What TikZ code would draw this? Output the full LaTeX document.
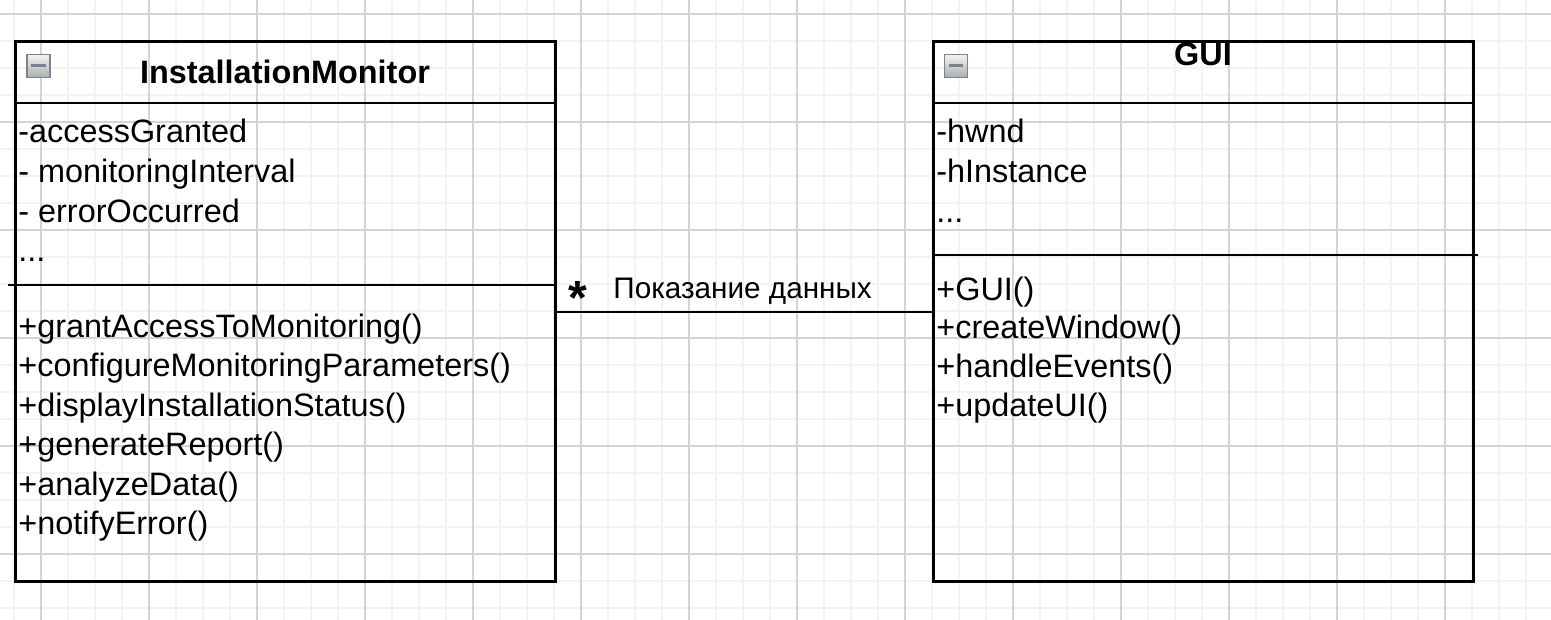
\documentclass[tikz,border=0pt]{standalone}
\usepackage{fontspec}
\setmainfont{Liberation Sans}
\usetikzlibrary{positioning}

\definecolor{gridlight}{RGB}{243,243,243}
\definecolor{griddark}{RGB}{212,212,212}
\definecolor{toggleedge}{RGB}{122,130,148}

\tikzset{
  gridminor/.style={draw=gridlight, line width=0.7pt},
  gridmajor/.style={draw=griddark, line width=0.7pt},
  classbox/.style={draw, line width=1.5pt, minimum width=270pt, minimum height=269.5pt, inner sep=0pt},
  classline/.style={line width=1.25pt},
  classname/.style={anchor=base, inner sep=0pt, font=\fontsize{16.2}{19}\selectfont\bfseries},
  member/.style={anchor=base west, inner sep=0pt, font=\fontsize{16.2}{19}\selectfont},
  assoc/.style={line width=1pt},
  assoclabel/.style={anchor=base west, inner sep=0pt, font=\fontsize{14.85}{18}\selectfont},
  multlabel/.style={anchor=base, inner sep=0pt, font=\fontsize{24}{28}\selectfont\bfseries},
  togglebox/.style={draw=toggleedge, line width=0.6pt, top color=black!5, bottom color=black!32,
    minimum size=11.5pt, inner sep=0pt,
    path picture={\draw[line width=1.5pt] ([xshift=2.2pt]path picture bounding box.west) -- ([xshift=-2.2pt]path picture bounding box.east);}},
}

\begin{document}
\begin{tikzpicture}[x=0.5pt, y=-0.5pt]
	\useasboundingbox (0,0) rectangle (1551,620);
	\fill[white] (0,0) rectangle (1551,620);
	% background grid
	\foreach \gx in {14,41,...,1551}
		\draw[gridminor] (\gx,0) -- (\gx,620);
	\foreach \gy in {14,41,...,620}
		\draw[gridminor] (0,\gy) -- (1551,\gy);
	\foreach \gx in {41,149,...,1551}
		\draw[gridmajor] (\gx,0) -- (\gx,620);
	\foreach \gy in {14,122,...,620}
		\draw[gridmajor] (0,\gy) -- (1551,\gy);

	% classes
	\node[classbox] (monitor) at (285,311.5) {};
	\node[classbox] (gui) at (1203,311.5) {};

	\draw[classline] (monitor.west |- 0,103) -- (monitor.east |- 0,103);
	\draw[classline] (8,285) -- (monitor.east |- 0,285);
	\draw[classline] (gui.west |- 0,103) -- (gui.east |- 0,103);
	\draw[classline] (gui.west |- 0,255) -- (1478,255);

	\node[togglebox] (monitortoggle) at (38.5,66) {};
	\node[togglebox] (guitoggle) at (956,66) {};

	\node[classname] (monitorname) at (285,84) {InstallationMonitor};
	\node[classname] (guiname) at (1203,66) {GUI};

	% InstallationMonitor members
	\node[member] (ma1) at (18,143) {-accessGranted};
	\node[member] (ma2) at (18,182.5) {- monitoringInterval};
	\node[member] (ma3) at (18,222) {- errorOccurred};
	\node[member] (ma4) at (18,261.5) {...};
	\node[member] (mm1) at (18,337) {+grantAccessToMonitoring()};
	\node[member] (mm2) at (18,376.5) {+configureMonitoringParameters()};
	\node[member] (mm3) at (18,416) {+displayInstallationStatus()};
	\node[member] (mm4) at (18,455.5) {+generateReport()};
	\node[member] (mm5) at (18,495) {+analyzeData()};
	\node[member] (mm6) at (18,534.5) {+notifyError()};

	% GUI members
	\node[member] (ga1) at (936,143) {-hwnd};
	\node[member] (ga2) at (936,182.5) {-hInstance};
	\node[member] (ga3) at (936,222) {...};
	\node[member] (gm1) at (936,300) {+GUI()};
	\node[member] (gm2) at (936,338.5) {+createWindow()};
	\node[member] (gm3) at (936,377.5) {+handleEvents()};
	\node[member] (gm4) at (936,416.5) {+updateUI()};

	% association
	\draw[assoc] (monitor.east) -- (gui.west);
	\node[multlabel] (mult) at (578,314) {*};
	\node[assoclabel] (assocname) at (613,298) {Показание данных};
\end{tikzpicture}
\end{document}
